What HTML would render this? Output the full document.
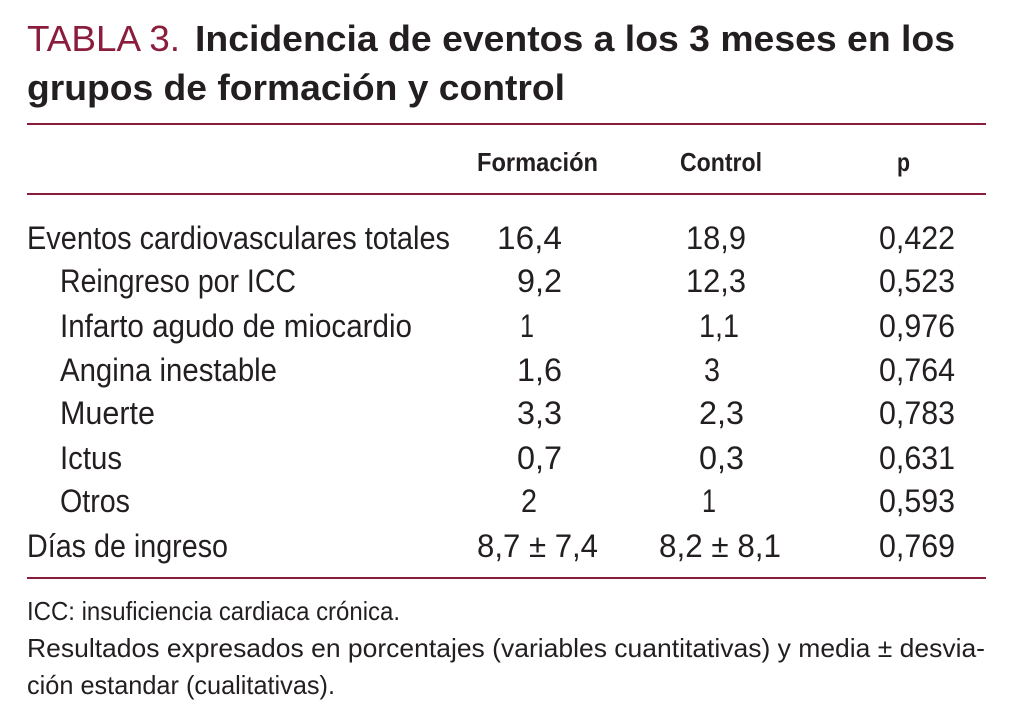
<!DOCTYPE html>
<html><head><meta charset="utf-8"><style>
html,body{margin:0;padding:0;background:#fff;}
svg{display:block;font-family:"Liberation Sans",sans-serif;}
</style></head><body>
<svg width="1016" height="716" viewBox="0 0 1016 716">
<g>
<text x="27" y="51" font-size="36" fill="#8a1c3c" textLength="153" lengthAdjust="spacingAndGlyphs">TABLA 3.</text>
<text x="195" y="51" font-size="36" font-weight="bold" fill="#231f20" textLength="760" lengthAdjust="spacingAndGlyphs">Incidencia de eventos a los 3 meses en los</text>
<text x="27" y="100" font-size="36" font-weight="bold" fill="#231f20" textLength="538" lengthAdjust="spacingAndGlyphs">grupos de formación y control</text>
</g>
<line x1="27" y1="124" x2="986" y2="124" stroke="#8a1c3c" stroke-width="2"/>
<g font-size="26" font-weight="bold" fill="#231f20">
<text x="477" y="171" textLength="121" lengthAdjust="spacingAndGlyphs">Formación</text>
<text x="680" y="171" textLength="82" lengthAdjust="spacingAndGlyphs">Control</text>
<text x="897" y="171" textLength="13" lengthAdjust="spacingAndGlyphs">p</text>
</g>
<line x1="27" y1="194" x2="986" y2="194" stroke="#8a1c3c" stroke-width="2"/>
<g font-size="32" fill="#231f20">
<text x="27" y="249" textLength="423" lengthAdjust="spacingAndGlyphs">Eventos cardiovasculares totales</text>
<text x="497" y="249" textLength="65" lengthAdjust="spacingAndGlyphs">16,4</text>
<text x="686" y="249" textLength="60" lengthAdjust="spacingAndGlyphs">18,9</text>
<text x="879" y="249" textLength="76" lengthAdjust="spacingAndGlyphs">0,422</text>

<text x="60" y="292" textLength="236" lengthAdjust="spacingAndGlyphs">Reingreso por ICC</text>
<text x="517" y="292" textLength="45" lengthAdjust="spacingAndGlyphs">9,2</text>
<text x="686" y="292" textLength="60" lengthAdjust="spacingAndGlyphs">12,3</text>
<text x="879" y="292" textLength="76" lengthAdjust="spacingAndGlyphs">0,523</text>

<text x="60" y="337" textLength="352" lengthAdjust="spacingAndGlyphs">Infarto agudo de miocardio</text>
<text x="520" y="337" textLength="14" lengthAdjust="spacingAndGlyphs">1</text>
<text x="699" y="337" textLength="40" lengthAdjust="spacingAndGlyphs">1,1</text>
<text x="879" y="337" textLength="76" lengthAdjust="spacingAndGlyphs">0,976</text>

<text x="60" y="381" textLength="217" lengthAdjust="spacingAndGlyphs">Angina inestable</text>
<text x="517" y="381" textLength="45" lengthAdjust="spacingAndGlyphs">1,6</text>
<text x="704" y="381" textLength="16" lengthAdjust="spacingAndGlyphs">3</text>
<text x="879" y="381" textLength="76" lengthAdjust="spacingAndGlyphs">0,764</text>

<text x="60" y="424" textLength="95" lengthAdjust="spacingAndGlyphs">Muerte</text>
<text x="517" y="424" textLength="45" lengthAdjust="spacingAndGlyphs">3,3</text>
<text x="699" y="424" textLength="45" lengthAdjust="spacingAndGlyphs">2,3</text>
<text x="879" y="424" textLength="76" lengthAdjust="spacingAndGlyphs">0,783</text>

<text x="60" y="469" textLength="62" lengthAdjust="spacingAndGlyphs">Ictus</text>
<text x="517" y="469" textLength="45" lengthAdjust="spacingAndGlyphs">0,7</text>
<text x="699" y="469" textLength="45" lengthAdjust="spacingAndGlyphs">0,3</text>
<text x="879" y="469" textLength="76" lengthAdjust="spacingAndGlyphs">0,631</text>

<text x="60" y="512" textLength="70" lengthAdjust="spacingAndGlyphs">Otros</text>
<text x="521" y="512" textLength="16" lengthAdjust="spacingAndGlyphs">2</text>
<text x="702" y="512" textLength="14" lengthAdjust="spacingAndGlyphs">1</text>
<text x="879" y="512" textLength="76" lengthAdjust="spacingAndGlyphs">0,593</text>

<text x="27" y="557" textLength="201" lengthAdjust="spacingAndGlyphs">Días de ingreso</text>
<text x="477" y="557" textLength="121" lengthAdjust="spacingAndGlyphs">8,7 ± 7,4</text>
<text x="659" y="557" textLength="122" lengthAdjust="spacingAndGlyphs">8,2 ± 8,1</text>
<text x="879" y="557" textLength="76" lengthAdjust="spacingAndGlyphs">0,769</text>
</g>
<line x1="27" y1="578" x2="986" y2="578" stroke="#8a1c3c" stroke-width="2"/>
<g font-size="26" fill="#231f20">
<text x="27" y="620" textLength="373" lengthAdjust="spacingAndGlyphs">ICC: insuficiencia cardiaca crónica.</text>
<text x="27" y="657" textLength="958" lengthAdjust="spacingAndGlyphs">Resultados expresados en porcentajes (variables cuantitativas) y media ± desvia-</text>
<text x="27" y="694" textLength="308" lengthAdjust="spacingAndGlyphs">ción estandar (cualitativas).</text>
</g>
</svg>
</body></html>
